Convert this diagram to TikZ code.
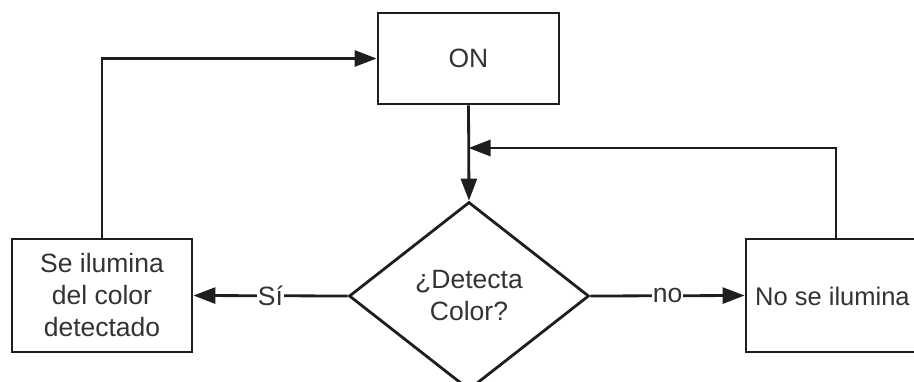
\documentclass[tikz,border=0pt]{standalone}
\usepackage{fontspec}
\setmainfont{Liberation Sans}
\usetikzlibrary{arrows.meta,shapes.geometric}
\definecolor{ink}{HTML}{1E1E1E}
\definecolor{txt}{HTML}{333333}
\tikzset{
  x=1pt, y=-1pt,
  base/.style={draw=ink, line width=2.8pt, text=txt, align=center,
    font=\fontsize{26.5}{32}\selectfont, inner sep=0pt},
  procbox/.style={base, rectangle, minimum width=180pt, minimum height=113pt},
  decision/.style={base, diamond, minimum width=240pt, minimum height=188pt, aspect=1.28},
  flow/.style={draw=ink, line width=2.8pt, -{Triangle[length=22pt,width=16pt]}},
  edgelabel/.style={fill=white, text=txt, inner sep=1pt, font=\fontsize{26.5}{30}\selectfont}
}
\begin{document}
\begin{tikzpicture}
  \useasboundingbox (0,0) rectangle (914,381);
  \clip (0,0) rectangle (914,381);
  \fill[white] (0,0) rectangle (914,381);

  % nodes
  \node[procbox, minimum width=181pt, minimum height=91pt] (on) at (468.5,58.5) {ON};
  \node[decision] (dec) at (469,296) {¿Detecta\\Color?};
  \node[procbox] (yes) at (102,295.5) {Se ilumina\\del color\\detectado};
  \node[procbox] (nobox) at (836,295.5) {};
  \node[text=txt, inner sep=0pt, anchor=west, font=\fontsize{25.5}{30}\selectfont]
    (notext) at (755,296) {No se ilumina};

  % merge point on the ON -> decision line
  \coordinate (join) at (on.south |- 0,148);

  % connectors
  \draw[flow] (on.south) -- (dec.north);
  \draw[flow] (nobox.north) |- (join);
  \draw[flow] (dec.west) -- node[edgelabel] {Sí} (yes.east);
  \draw[flow] (dec.east) -- node[edgelabel] {no} (nobox.west);
  \draw[flow] (yes.north) |- (on.west);
\end{tikzpicture}
\end{document}
